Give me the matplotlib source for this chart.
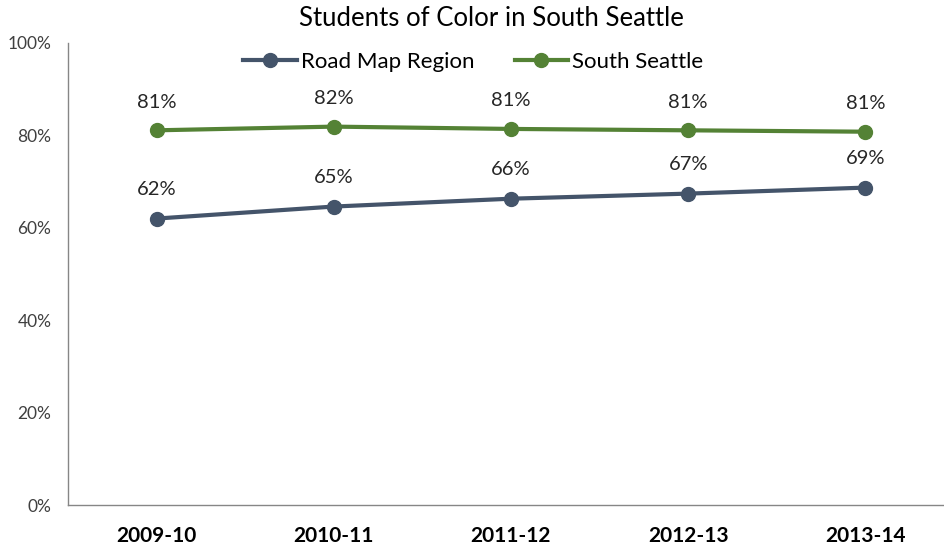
import matplotlib
matplotlib.use("Agg")
import matplotlib.pyplot as plt
from matplotlib.ticker import FuncFormatter

plt.rcParams['font.family'] = ['Lato', 'DejaVu Sans']

# data
years = ["2009-10", "2010-11", "2011-12", "2012-13", "2013-14"]
road_map = [62.0, 64.6, 66.3, 67.4, 68.7]
south_seattle = [81.1, 81.9, 81.4, 81.1, 80.8]
road_map_labels = ["62%", "65%", "66%", "67%", "69%"]
south_seattle_labels = ["81%", "82%", "81%", "81%", "81%"]

navy = "#44546A"
green = "#548235"

fig = plt.figure(figsize=(9.45, 5.52), dpi=100)
ax = fig.add_axes([68 / 945, 47 / 552, 886 / 945, 462 / 552])

x = range(len(years))
ax.plot(x, road_map, color=navy, lw=3, marker="o", ms=10, label="Road Map Region")
ax.plot(x, south_seattle, color=green, lw=3, marker="o", ms=10, label="South Seattle")

for i in x:
    ax.annotate(road_map_labels[i], (i, road_map[i]), xytext=(0, 15), textcoords="offset points",
                ha="center", va="bottom", fontsize=14.5, color="#262626")
    ax.annotate(south_seattle_labels[i], (i, south_seattle[i]), xytext=(0, 14), textcoords="offset points",
                ha="center", va="bottom", fontsize=14.5, color="#262626")

ax.set_xlim(-0.5, 4.5)
ax.set_ylim(0, 100)
ax.set_yticks([0, 20, 40, 60, 80, 100])
ax.yaxis.set_major_formatter(FuncFormatter(lambda v, p: f"{v:.0f}%"))
ax.set_xticks(list(x))
ax.set_xticklabels(years, fontsize=15, fontweight="bold")
ax.tick_params(axis="y", length=0, labelsize=12.5, pad=12, colors="#404040")
ax.tick_params(axis="x", length=0, pad=15, colors="black")

for s in ["top", "right"]:
    ax.spines[s].set_visible(False)
for s in ["left", "bottom"]:
    ax.spines[s].set_color("#868686")
    ax.spines[s].set_linewidth(1)

ax.legend(loc="center", bbox_to_anchor=(473.5 / 886 - 68 / 886, (505 - 62) / 462), ncol=2, frameon=False,
          fontsize=16, handlelength=2.4, handletextpad=0.2, columnspacing=1.8)

fig.text(491 / 945, 1 - 18 / 552, "Students of Color in South Seattle", ha="center", va="center", fontsize=18.5)

fig.savefig("out.png", dpi=100)
